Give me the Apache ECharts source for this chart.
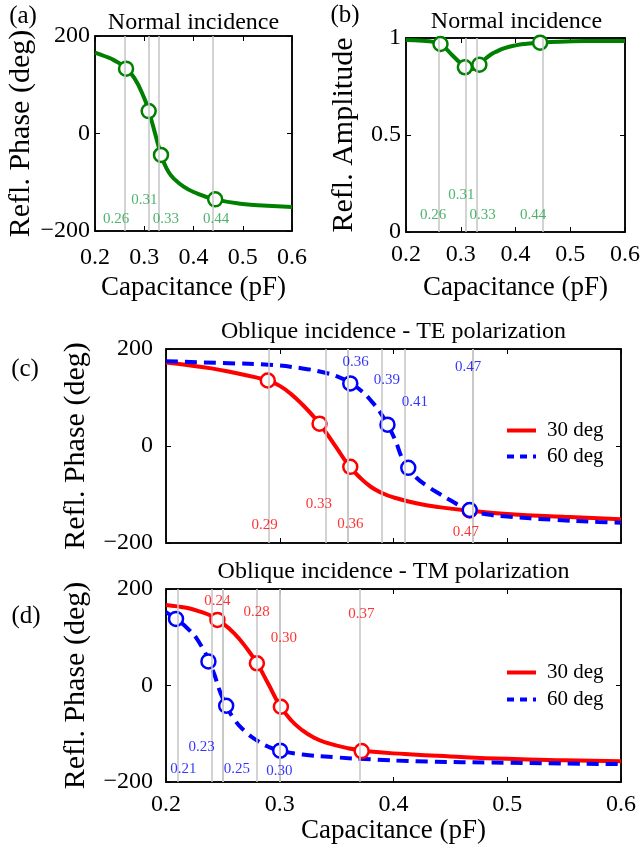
<!DOCTYPE html>
<html>
<head>
<meta charset="utf-8">
<script src="https://cdn.jsdelivr.net/npm/echarts@6/dist/echarts.min.js"></script>
<style>
  html, body { margin: 0; padding: 0; background: #fff; }
  #chart { width: 643px; height: 846px; }
</style>
</head>
<body>
<div id="chart"></div>
<script>
// (a) normal incidence – reflection phase
const aCap = [0.20, 0.22, 0.24, 0.26, 0.28, 0.30, 0.31, 0.32, 0.33, 0.34, 0.35, 0.36, 0.38, 0.40, 0.44, 0.50, 0.55, 0.60];
const aPhase = [166, 158.5, 149.5, 136.5, 113.5, 72.5, 43, 7.5, -29.5, -60, -80, -92.5, -109, -120, -134, -144.5, -148, -151];
const aMarkCap = [0.263, 0.309, 0.334, 0.444];
const aMarkPhase = [133, 46, -44, -135];
const aLabels = ["0.26", "0.31", "0.33", "0.44"];
const aLabelCap = [0.243, 0.300, 0.344, 0.446];
const aLabelPhase = [-175, -136, -175, -175];

// (b) normal incidence – reflection amplitude
const bCap = [0.20, 0.23, 0.25, 0.263, 0.285, 0.3075, 0.315, 0.322, 0.334, 0.345, 0.355, 0.365, 0.38, 0.40, 0.42, 0.445, 0.48, 0.53, 0.60];
const bAmp = [0.990, 0.986, 0.980, 0.969, 0.910, 0.849, 0.836, 0.840, 0.862, 0.893, 0.915, 0.930, 0.948, 0.962, 0.970, 0.976, 0.981, 0.984, 0.985];
const bMarkCap = [0.263, 0.3075, 0.334, 0.445];
const bMarkAmp = [0.969, 0.849, 0.862, 0.976];
const bLabels = ["0.26", "0.31", "0.33", "0.44"];
const bLabelCap = [0.2495, 0.301, 0.340, 0.432];
const bLabelAmp = [0.088, 0.19, 0.088, 0.088];

// (c) oblique incidence, TE
const cCap30 = [0.20, 0.22, 0.24, 0.26, 0.28, 0.29, 0.30, 0.31, 0.32, 0.33, 0.34, 0.35, 0.36, 0.37, 0.38, 0.39, 0.40, 0.42, 0.44, 0.47, 0.50, 0.55, 0.60];
const cPhase30 = [172, 166.5, 160, 151, 141, 135, 124, 107, 85, 60, 30, -4, -38, -64, -84, -97, -106, -118, -126, -134, -140, -146, -151];
const cCap60 = [0.20, 0.25, 0.29, 0.32, 0.34, 0.35, 0.36, 0.37, 0.38, 0.39, 0.40, 0.41, 0.42, 0.43, 0.44, 0.45, 0.46, 0.47, 0.48, 0.50, 0.54, 0.58, 0.60];
const cPhase60 = [175, 171, 167.5, 160, 151, 144, 133, 117, 94, 63, 20, -36, -65, -83, -98, -112, -125, -135, -140, -145.5, -152, -156.5, -158];
const cMarkCap30 = [0.2895, 0.335, 0.362, 0.467];
const cMarkPhase30 = [135, 46, -43, -133];
const cMarkCap60 = [0.362, 0.3947, 0.413, 0.467];
const cMarkPhase60 = [129, 44, -45, -132];
const cLabels30 = ["0.29", "0.33", "0.36", "0.47"];
const cLabelCap30 = [0.2866, 0.3345, 0.3621, 0.4637];
const cLabelPhase30 = [-163, -120, -161, -178];
const cLabels60 = ["0.36", "0.39", "0.41", "0.47"];
const cLabelCap60 = [0.3668, 0.3941, 0.4188, 0.4657];
const cLabelPhase60 = [174, 136, 91, 163];

// (d) oblique incidence, TM
const dCap30 = [0.20, 0.21, 0.22, 0.23, 0.24, 0.25, 0.26, 0.27, 0.28, 0.29, 0.30, 0.31, 0.32, 0.33, 0.34, 0.36, 0.38, 0.41, 0.45, 0.50, 0.55, 0.60];
const dPhase30 = [167, 164, 160, 153, 144, 129, 108, 80, 46, 3, -41, -72, -93, -108, -118, -130, -137, -142, -147, -152, -155, -157];
const dCap60 = [0.20, 0.21, 0.22, 0.23, 0.24, 0.25, 0.26, 0.27, 0.28, 0.29, 0.30, 0.32, 0.35, 0.38, 0.42, 0.50, 0.60];
const dPhase60 = [152, 136, 116, 86, 38, -27, -70, -96, -114, -127, -135, -143, -149, -153, -157, -160, -163];
const dMarkCap30 = [0.2452, 0.2799, 0.301, 0.372];
const dMarkPhase30 = [136, 46, -44, -136];
const dMarkCap60 = [0.2088, 0.2373, 0.2529, 0.3004];
const dMarkPhase60 = [138, 50, -42, -135];
const dLabels30 = ["0.24", "0.28", "0.30", "0.37"];
const dLabelCap30 = [0.2451, 0.2796, 0.3037, 0.3717];
const dLabelPhase30 = [176, 152, 99, 148];
const dLabels60 = ["0.21", "0.23", "0.25", "0.30"];
const dLabelCap60 = [0.2152, 0.2314, 0.2622, 0.2996];
const dLabelPhase60 = [-174, -128, -174, -177];

const capTicks = [0.2, 0.6, 0.1];     // min, max, step
const phaseTicks = [-200, 200, 200];
const ampTicks = [0, 1, 0.5];

const FONT = "Liberation Serif";
const GREEN = "#008000", GREEN_TXT = "#22a04a", RED = "#ff0000", BLUE = "#0000ff";

const chart = echarts.init(document.getElementById("chart"), null, { renderer: "canvas" });

const zip = (xs, ys) => xs.map((x, i) => [x, ys[i]]);
const minus = (v) => (v < 0 ? "\u2212" + Math.abs(v) : String(v));

const grids = [
  { left: 95, top: 36, width: 197, height: 195 },
  { left: 406, top: 38, width: 221, height: 194 },
  { left: 166, top: 349, width: 455, height: 194 },
  { left: 166, top: 589, width: 455, height: 193 },
].map((g) => ({ ...g, show: true, borderColor: "#000", borderWidth: 1.5, containLabel: false }));

const tickStyle = { show: true, inside: true, length: 5, lineStyle: { color: "#000", width: 1 } };
const lineStyle = { show: true, onZero: false, lineStyle: { color: "#000", width: 1.5 } };

// bottom axis + mirrored top axis for every panel
const xAxis = [];
const xOpts = [
  { labels: true, margin: 15, gap: 43 },
  { labels: true, margin: 11, gap: 42 },
  { labels: false, margin: 10, gap: 40 },
  { labels: true, margin: 11, gap: 33 },
];
xOpts.forEach((o, i) => {
  xAxis.push({
    type: "value", gridIndex: i, position: "bottom",
    min: capTicks[0], max: capTicks[1], interval: capTicks[2],
    axisLine: lineStyle, axisTick: tickStyle, splitLine: { show: false },
    axisLabel: { show: o.labels, margin: o.margin, fontSize: 24, fontFamily: FONT, color: "#000", formatter: (v) => v.toFixed(1) },
    name: o.labels ? "Capacitance (pF)" : "", nameLocation: "middle", nameGap: o.gap,
    nameTextStyle: { fontSize: 27, fontFamily: FONT, color: "#000" },
  });
});
xOpts.forEach((o, i) => {
  xAxis.push({
    type: "value", gridIndex: i, position: "top",
    min: capTicks[0], max: capTicks[1], interval: capTicks[2],
    axisLine: lineStyle, axisTick: tickStyle, splitLine: { show: false }, axisLabel: { show: false },
  });
});

const yAxis = [];
const yOpts = [
  { t: phaseTicks, name: "Refl. Phase (deg)", margin: 5, gap: 46 },
  { t: ampTicks, name: "Refl. Amplitude", margin: 5, gap: 47 },
  { t: phaseTicks, name: "Refl. Phase (deg)", margin: 13, gap: 75 },
  { t: phaseTicks, name: "Refl. Phase (deg)", margin: 13, gap: 75 },
];
yOpts.forEach((o, i) => {
  yAxis.push({
    type: "value", gridIndex: i, position: "left",
    min: o.t[0], max: o.t[1], interval: o.t[2],
    axisLine: lineStyle, axisTick: tickStyle, splitLine: { show: false },
    axisLabel: { margin: o.margin, fontSize: 24, fontFamily: FONT, color: "#000", formatter: minus },
    name: o.name, nameLocation: "middle", nameRotate: 90, nameGap: o.gap,
    nameTextStyle: { fontSize: 30, fontFamily: FONT, color: "#000" },
  });
});
yOpts.forEach((o, i) => {
  yAxis.push({
    type: "value", gridIndex: i, position: "right",
    min: o.t[0], max: o.t[1], interval: o.t[2],
    axisLine: lineStyle, axisTick: tickStyle, splitLine: { show: false }, axisLabel: { show: false },
  });
});

function curve(name, idx, xs, ys, color, dashed) {
  return {
    name, type: "line", xAxisIndex: idx, yAxisIndex: idx, data: zip(xs, ys),
    symbol: "none", showSymbol: false, smooth: 0.5, z: 3, silent: true,
    lineStyle: { color, width: 4, type: dashed ? [12, 7] : "solid", cap: "butt" },
    itemStyle: { color },
  };
}
function guides(idx, xs) {
  return {
    type: "line", xAxisIndex: idx, yAxisIndex: idx, data: [], z: 1, silent: true,
    markLine: {
      silent: true, symbol: ["none", "none"], label: { show: false }, animation: false,
      lineStyle: { color: "#c4c4c4", width: 1.5, type: "solid" },
      data: xs.map((x) => ({ xAxis: x })),
    },
  };
}
function markers(idx, xs, ys, color) {
  return {
    type: "scatter", xAxisIndex: idx, yAxisIndex: idx, data: zip(xs, ys), z: 4, silent: true,
    symbol: "circle", symbolSize: 14,
    itemStyle: { color: "#fff", borderColor: color, borderWidth: 2.5, opacity: 1 },
  };
}
function labels(idx, texts, xs, ys, color) {
  return {
    type: "scatter", xAxisIndex: idx, yAxisIndex: idx, z: 5, silent: true,
    data: texts.map((t, i) => [xs[i], ys[i], t]), symbolSize: 0,
    label: { show: true, position: "inside", formatter: (p) => p.data[2], color, fontSize: 15, fontFamily: FONT },
  };
}

const series = [
  guides(0, aMarkCap),
  curve("normal phase", 0, aCap, aPhase, GREEN),
  markers(0, aMarkCap, aMarkPhase, GREEN),
  labels(0, aLabels, aLabelCap, aLabelPhase, GREEN_TXT),

  guides(1, bMarkCap),
  curve("normal amplitude", 1, bCap, bAmp, GREEN),
  markers(1, bMarkCap, bMarkAmp, GREEN),
  labels(1, bLabels, bLabelCap, bLabelAmp, GREEN_TXT),

  guides(2, cMarkCap30.concat(cMarkCap60)),
  curve("30 deg", 2, cCap30, cPhase30, RED),
  curve("60 deg", 2, cCap60, cPhase60, BLUE, true),
  markers(2, cMarkCap30, cMarkPhase30, RED),
  markers(2, cMarkCap60, cMarkPhase60, BLUE),
  labels(2, cLabels30, cLabelCap30, cLabelPhase30, RED),
  labels(2, cLabels60, cLabelCap60, cLabelPhase60, BLUE),

  guides(3, dMarkCap30.concat(dMarkCap60)),
  curve("30 deg", 3, dCap30, dPhase30, RED),
  curve("60 deg", 3, dCap60, dPhase60, BLUE, true),
  markers(3, dMarkCap30, dMarkPhase30, RED),
  markers(3, dMarkCap60, dMarkPhase60, BLUE),
  labels(3, dLabels30, dLabelCap30, dLabelPhase30, RED),
  labels(3, dLabels60, dLabelCap60, dLabelPhase60, BLUE),
];

// legend icons: solid bar and a short dash pattern, like the plotted lines
const legendBase = {
  data: [
    { name: "30 deg", icon: "path://M0,0H29V4H0Z" },
    { name: "60 deg", icon: "path://M0,0H7V4H0ZM13,0H20V4H13ZM26,0H29V4H26Z" },
  ],
  orient: "vertical", left: 507, padding: 0,
  itemWidth: 29, itemHeight: 4, selectedMode: false,
  textStyle: { fontSize: 21, fontFamily: FONT, color: "#000", lineHeight: 21, padding: [0, 0, 0, 6] },
};

function text(str, x, y, size) {
  return {
    type: "text", x, y, silent: true,
    style: { text: str, fontSize: size, fontFamily: FONT, fill: "#000", align: "center", verticalAlign: "middle" },
  };
}

chart.setOption({
  animation: false,
  backgroundColor: "#fff",
  grid: grids,
  xAxis, yAxis, series,
  legend: [
    { ...legendBase, top: 420, itemGap: 5 },
    { ...legendBase, top: 662, itemGap: 6 },
  ],
  graphic: [
    text("Normal incidence", 193.5, 23, 24),
    text("Normal incidence", 516.5, 22, 24),
    text("Oblique incidence - TE polarization", 393.5, 332, 24),
    text("Oblique incidence - TM polarization", 393.5, 572, 24),
    text("(a)", 23, 16, 25),
    text("(b)", 345, 15, 25),
    text("(c)", 25, 369, 25),
    text("(d)", 26, 616, 25),
  ],
});
</script>
</body>
</html>
